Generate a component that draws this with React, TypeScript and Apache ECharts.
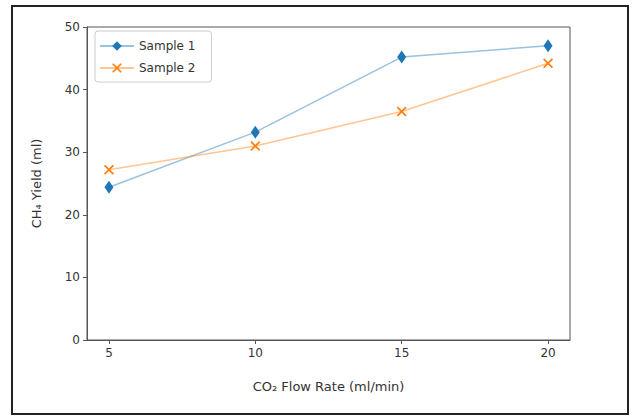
import React, { useEffect, useRef } from "react";
import * as echarts from "echarts";

const flowRates = [5, 10, 15, 20];
const sample1 = [24.4, 33.2, 45.2, 47.0];
const sample2 = [27.2, 31.0, 36.5, 44.2];
const xTicks = [5, 10, 15, 20];

const XPATH =
  "path://M0,1.2 L1.2,0 L5,3.8 L8.8,0 L10,1.2 L6.2,5 L10,8.8 L8.8,10 L5,6.2 L1.2,10 L0,8.8 L3.8,5 Z";

export default function App() {
  const ref = useRef<HTMLDivElement>(null);
  useEffect(() => {
    if (!ref.current) return;
    const chart = echarts.init(ref.current, undefined, { renderer: "svg" });
    const font = "DejaVu Sans";
    chart.setOption({
      animation: false,
      backgroundColor: "#ffffff",
      textStyle: { fontFamily: font },
      graphic: [
        {
          type: "rect",
          shape: { x: 12, y: 6, width: 616, height: 408 },
          style: { fill: "none", stroke: "#222", lineWidth: 2 },
          silent: true,
        },
      ],
      grid: {
        left: 87,
        top: 27,
        right: 63,
        bottom: 76,
        show: true,
        borderColor: "#555",
        borderWidth: 1,
        backgroundColor: "transparent",
      },
      legend: {
        orient: "vertical",
        left: 95,
        top: 31,
        itemWidth: 34,
        itemHeight: 12,
        itemGap: 10,
        padding: [9, 16, 8, 4],
        borderColor: "#ccc",
        borderWidth: 1,
        borderRadius: 3,
        textStyle: { fontFamily: font, fontSize: 12, color: "#333" },
        data: ["Sample 1", "Sample 2"],
      },
      xAxis: {
        type: "value",
        min: 4.25,
        max: 20.75,
        name: "CO₂ Flow Rate (ml/min)",
        nameLocation: "middle",
        nameGap: 40,
        nameTextStyle: { fontFamily: font, fontSize: 13, color: "#333" },
        axisLine: { show: true, lineStyle: { color: "#555" } },
        axisTick: {
          show: true,
          length: 4,
          lineStyle: { color: "#555" },
          customValues: xTicks,
        },
        axisLabel: {
          fontFamily: font,
          fontSize: 12,
          color: "#333",
          margin: 7,
          customValues: xTicks,
        },
        splitLine: { show: false },
      },
      yAxis: {
        type: "value",
        min: 0,
        max: 50,
        interval: 10,
        name: "CH₄ Yield (ml)",
        nameLocation: "middle",
        nameGap: 44,
        nameTextStyle: { fontFamily: font, fontSize: 13, color: "#333" },
        axisLine: { show: true, lineStyle: { color: "#555" } },
        axisTick: { show: true, length: 4, lineStyle: { color: "#555" } },
        axisLabel: { fontFamily: font, fontSize: 12, color: "#333", margin: 7 },
        splitLine: { show: false },
      },
      series: [
        {
          name: "Sample 1",
          type: "line",
          data: flowRates.map((x, i) => [x, sample1[i]]),
          symbol: "diamond",
          symbolSize: [9, 13],
          itemStyle: { color: "#1f77b4" },
          lineStyle: { color: "rgba(31,119,180,0.45)", width: 1.5 },
        },
        {
          name: "Sample 2",
          type: "line",
          data: flowRates.map((x, i) => [x, sample2[i]]),
          symbol: XPATH,
          symbolSize: 10,
          itemStyle: { color: "#ff7f0e" },
          lineStyle: { color: "rgba(255,127,14,0.45)", width: 1.5 },
        },
      ],
    });
    return () => chart.dispose();
  }, []);
  return (
    <div
      ref={ref}
      style={{ position: "fixed", left: 0, top: 0, width: 633, height: 416 }}
    />
  );
}
